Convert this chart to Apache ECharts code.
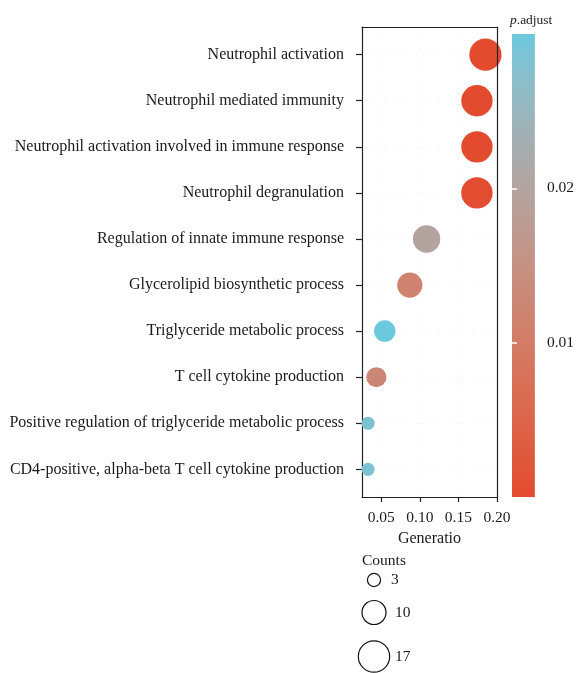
<!DOCTYPE html>
<html>
<head>
<meta charset="utf-8">
<script src="https://cdn.jsdelivr.net/npm/echarts@6/dist/echarts.min.js"></script>
<style>
  html, body { margin: 0; padding: 0; background: #ffffff; }
  #chart { width: 577px; height: 673px; }
</style>
</head>
<body>
<div id="chart"></div>
<script>
// GO enrichment terms, listed top to bottom as drawn
const terms = [
  'Neutrophil activation',
  'Neutrophil mediated immunity',
  'Neutrophil activation involved in immune response',
  'Neutrophil degranulation',
  'Regulation of innate immune response',
  'Glycerolipid biosynthetic process',
  'Triglyceride metabolic process',
  'T cell cytokine production',
  'Positive regulation of triglyceride metabolic process',
  'CD4-positive, alpha-beta T cell cytokine production'
];
const geneRatio = [0.185, 0.174, 0.174, 0.174, 0.1087, 0.087, 0.0545, 0.0436, 0.0329, 0.0329];
const counts    = [18, 17, 17, 17, 13, 11, 8, 7, 3, 3];
const pAdjust   = [0.0001, 0.0002, 0.0002, 0.0003, 0.0199, 0.0115, 0.0300, 0.0125, 0.0284, 0.0284];

const xTicks = [0.05, 0.10, 0.15, 0.20];
const pTicks = [0.01, 0.02];
const countBreaks = [3, 10, 17];
const pRange = [0, 0.03];

const LOW_COLOR = '#e34a2e';
const HIGH_COLOR = '#6cc8dc';
const FONT = "'Liberation Serif', 'DejaVu Serif', serif";
const TEXT_COLOR = '#1a1a1a';

// point diameter grows with the square root of the gene count
const sizeOf = c => 7.6 * Math.sqrt(c);

// colour gradient interpolated in CIE Lab between the two end colours
function toLin(c) { c /= 255; return c <= 0.04045 ? c / 12.92 : Math.pow((c + 0.055) / 1.055, 2.4); }
function fromLin(c) {
  const v = c <= 0.0031308 ? 12.92 * c : 1.055 * Math.pow(c, 1 / 2.4) - 0.055;
  return Math.round(Math.max(0, Math.min(1, v)) * 255);
}
const WX = 0.95047, WY = 1.0, WZ = 1.08883;
function fLab(t) { return t > 0.008856 ? Math.cbrt(t) : 7.787 * t + 16 / 116; }
function fInv(t) { return t > 0.206893 ? t * t * t : (t - 16 / 116) / 7.787; }
function hexToLab(hex) {
  const r = toLin(parseInt(hex.slice(1, 3), 16));
  const g = toLin(parseInt(hex.slice(3, 5), 16));
  const b = toLin(parseInt(hex.slice(5, 7), 16));
  const x = (0.4124 * r + 0.3576 * g + 0.1805 * b) / WX;
  const y = (0.2126 * r + 0.7152 * g + 0.0722 * b) / WY;
  const z = (0.0193 * r + 0.1192 * g + 0.9505 * b) / WZ;
  const fx = fLab(x), fy = fLab(y), fz = fLab(z);
  return [116 * fy - 16, 500 * (fx - fy), 200 * (fy - fz)];
}
function labToHex(lab) {
  const fy = (lab[0] + 16) / 116, fx = fy + lab[1] / 500, fz = fy - lab[2] / 200;
  const x = fInv(fx) * WX, y = fInv(fy) * WY, z = fInv(fz) * WZ;
  const r = 3.2406 * x - 1.5372 * y - 0.4986 * z;
  const g = -0.9689 * x + 1.8758 * y + 0.0415 * z;
  const b = 0.0557 * x - 0.2040 * y + 1.0570 * z;
  return '#' + [r, g, b].map(v => fromLin(v).toString(16).padStart(2, '0')).join('');
}
const labLow = hexToLab(LOW_COLOR), labHigh = hexToLab(HIGH_COLOR);
const STEPS = 32;
const rampColors = [];
for (let i = 0; i <= STEPS; i++) {
  const t = i / STEPS;
  rampColors.push(labToHex(labLow.map((v, k) => v + (labHigh[k] - v) * t)));
}
const barGradient = {
  type: 'linear', x: 0, y: 0, x2: 0, y2: 1,
  colorStops: rampColors.map((c, i) => ({ offset: 1 - i / STEPS, color: c })).reverse()
};

const n = terms.length;
const points = terms.map((t, i) => [geneRatio[i], n - 1 - i, pAdjust[i], counts[i]]);
const yIdx = terms.map((t, i) => i);

const catStyle = { fontFamily: FONT, fontSize: 16, color: TEXT_COLOR };
const tickStyle = { fontFamily: FONT, fontSize: 15.5, color: TEXT_COLOR };
const dotted = { color: '#e9e9e9', width: 1, type: [1, 10] };
const frameLine = { color: '#222', width: 1.2 };

const chart = echarts.init(document.getElementById('chart'), null, { renderer: 'canvas' });

// Counts legend: outline circles sized like the points
const legendTop = [580, 612.5, 656.5];
const legendLabelX = [391, 395, 395];
const legendGraphics = [{
  type: 'text', left: 362, top: 553,
  style: { text: 'Counts', font: '15.5px ' + FONT, fill: TEXT_COLOR }
}];
countBreaks.forEach((c, i) => {
  legendGraphics.push({
    type: 'circle',
    shape: { cx: 374, cy: legendTop[i], r: sizeOf(c) / 2 },
    style: { fill: 'none', stroke: '#111', lineWidth: 1.2 }
  });
  legendGraphics.push({
    type: 'text', x: legendLabelX[i], y: legendTop[i],
    style: { text: String(c), font: '15.5px ' + FONT, fill: TEXT_COLOR, verticalAlign: 'middle' }
  });
});

chart.setOption({
  animation: false,
  backgroundColor: '#ffffff',
  grid: [
    { left: 362, right: 80, top: 27, bottom: 176, containLabel: false },
    { left: 512, width: 23, top: 34, bottom: 176, show: true, borderWidth: 0, backgroundColor: barGradient }
  ],
  xAxis: [
    {
      type: 'value', gridIndex: 0, min: 0.025, max: 0.2, interval: 0.025,
      name: 'Generatio', nameLocation: 'middle', nameGap: 27,
      nameTextStyle: catStyle,
      axisLine: { show: true, onZero: false, lineStyle: frameLine },
      axisTick: { show: true, length: 5, customValues: xTicks, lineStyle: frameLine },
      axisLabel: Object.assign({ margin: 13, customValues: xTicks, formatter: v => v.toFixed(2) }, tickStyle),
      splitLine: { show: true, lineStyle: dotted }
    },
    {
      type: 'value', gridIndex: 0, position: 'top', min: 0.025, max: 0.2, z: 5,
      axisLine: { show: true, onZero: false, lineStyle: frameLine },
      axisTick: { show: false }, axisLabel: { show: false }, splitLine: { show: false }
    },
    { type: 'value', gridIndex: 1, min: 0, max: 1, show: false }
  ],
  yAxis: [
    {
      type: 'value', gridIndex: 0, min: -0.6, max: n - 0.4,
      axisLine: { show: true, onZero: false, lineStyle: frameLine },
      axisTick: { show: true, length: 6, customValues: yIdx, lineStyle: frameLine },
      axisLabel: Object.assign({ margin: 18, customValues: yIdx, formatter: v => terms[n - 1 - Math.round(v)] }, catStyle),
      splitLine: { show: true, lineStyle: dotted }
    },
    {
      type: 'value', gridIndex: 0, position: 'right', min: -0.6, max: n - 0.4, z: 5,
      axisLine: { show: true, onZero: false, lineStyle: frameLine },
      axisTick: { show: false }, axisLabel: { show: false }, splitLine: { show: false }
    },
    {
      // colour bar scale with labels on the right
      type: 'value', gridIndex: 1, position: 'right', min: pRange[0], max: pRange[1],
      axisLine: { show: false },
      axisTick: { show: true, inside: true, length: 5, customValues: pTicks, lineStyle: { color: '#ffffff', width: 1.5 } },
      axisLabel: Object.assign({ margin: 12, customValues: pTicks, formatter: v => v.toFixed(2) }, tickStyle),
      splitLine: { show: false }
    },
    {
      type: 'value', gridIndex: 1, position: 'left', min: pRange[0], max: pRange[1],
      axisLine: { show: false },
      axisTick: { show: true, inside: true, length: 5, customValues: pTicks, lineStyle: { color: '#ffffff', width: 1.5 } },
      axisLabel: { show: false },
      splitLine: { show: false }
    }
  ],
  visualMap: [{
    type: 'continuous', show: false, seriesIndex: 0, dimension: 2,
    min: pRange[0], max: pRange[1],
    inRange: { color: rampColors }
  }],
  series: [
    {
      type: 'scatter', xAxisIndex: 0, yAxisIndex: 0, clip: false, z: 2,
      symbol: 'circle',
      symbolSize: v => sizeOf(v[3]),
      itemStyle: { opacity: 1, borderWidth: 0 },
      data: points
    },
    { type: 'scatter', xAxisIndex: 2, yAxisIndex: 2, data: [] }
  ],
  graphic: [
    {
      type: 'text', left: 510, top: 13,
      style: {
        text: '{i|p}.adjust',
        font: '13.5px ' + FONT, fill: TEXT_COLOR,
        rich: { i: { fontStyle: 'italic', fontFamily: FONT, fontSize: 13.5, fill: TEXT_COLOR } }
      }
    }
  ].concat(legendGraphics)
});
</script>
</body>
</html>
